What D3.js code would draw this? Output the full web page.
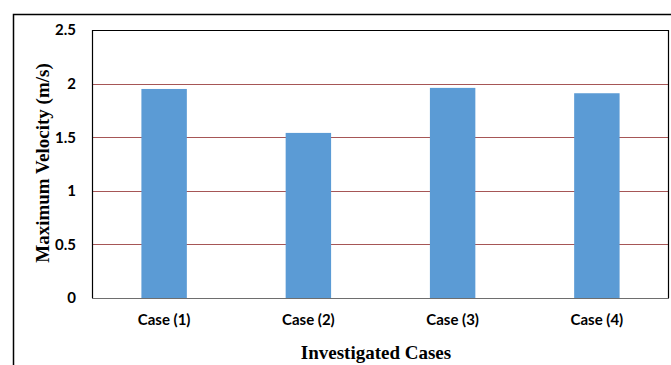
<!DOCTYPE html>
<html>
<head>
<meta charset="utf-8">
<script src="https://cdn.jsdelivr.net/npm/d3@7"></script>
<style>
  html, body { margin: 0; padding: 0; background: #fff; }
  svg { display: block; }
</style>
</head>
<body>
<svg id="chart" width="671" height="365"></svg>
<script>
// Maximum velocity for each investigated case
const categories = ["Case (1)", "Case (2)", "Case (3)", "Case (4)"];
const velocities = [1.95, 1.54, 1.96, 1.91];
const yTicks = [0, 0.5, 1, 1.5, 2, 2.5];

const svg = d3.select("#chart");
const W = 671, H = 365;
const plot = { left: 92, right: 669, top: 30, bottom: 298 };

// Outer frame around the whole figure (runs past the right/bottom edges)
svg.append("rect")
  .attr("x", 13.5).attr("y", 14.5)
  .attr("width", W).attr("height", H)
  .attr("fill", "none").attr("stroke", "#000").attr("stroke-width", 1.5);

const x = d3.scaleBand()
  .domain(categories)
  .range([plot.left, plot.right])
  .paddingInner(0.685)
  .paddingOuter(0.3425);

const y = d3.scaleLinear()
  .domain([0, 2.5])
  .range([plot.bottom, plot.top]);

// Horizontal gridlines
svg.append("g")
  .selectAll("line")
  .data(yTicks.filter(d => d > 0 && d < 2.5))
  .join("line")
  .attr("x1", plot.left).attr("x2", plot.right)
  .attr("y1", d => Math.round(y(d)) + 0.5)
  .attr("y2", d => Math.round(y(d)) + 0.5)
  .attr("stroke", "#a65656").attr("stroke-width", 1);

// Bars
svg.append("g")
  .selectAll("rect")
  .data(velocities)
  .join("rect")
  .attr("x", (d, i) => x(categories[i]))
  .attr("y", d => y(d))
  .attr("width", x.bandwidth())
  .attr("height", d => y(0) - y(d))
  .attr("fill", "#5b9bd5");

// Plot border: top, left and right in black, baseline in grey
const border = svg.append("g").attr("fill", "none");
border.append("path")
  .attr("d", `M${plot.left + 0.5},${plot.bottom}V${plot.top + 0.5}H${plot.right - 0.5}V${plot.bottom}`)
  .attr("stroke", "#000").attr("stroke-width", 1.2);
border.append("line")
  .attr("x1", plot.left).attr("x2", plot.right)
  .attr("y1", plot.bottom + 0.5).attr("y2", plot.bottom + 0.5)
  .attr("stroke", "#6e6e6e").attr("stroke-width", 1.2);

// Y axis tick labels
const yAxis = d3.axisLeft(y).tickValues(yTicks).tickSize(0).tickPadding(16)
  .tickFormat(d => d3.format("")(d));
svg.append("g")
  .attr("transform", `translate(${plot.left},0)`)
  .call(yAxis)
  .call(g => g.select(".domain").remove())
  .call(g => g.selectAll("text")
    .attr("font-family", "Lato, 'Open Sans', sans-serif")
    .attr("font-weight", "bold").attr("font-size", 15).attr("fill", "#000"));

// X axis category labels
const xAxis = d3.axisBottom(x).tickSize(0).tickPadding(16);
svg.append("g")
  .attr("transform", `translate(0,${plot.bottom})`)
  .call(xAxis)
  .call(g => g.select(".domain").remove())
  .call(g => g.selectAll("text")
    .attr("font-family", "Lato, 'Open Sans', sans-serif")
    .attr("font-weight", "bold").attr("font-size", 15).attr("fill", "#000"));

// Axis titles
svg.append("text")
  .attr("x", 376).attr("y", 359)
  .attr("text-anchor", "middle")
  .attr("font-family", "'Liberation Serif', 'Times New Roman', serif")
  .attr("font-weight", "bold").attr("font-size", 19)
  .text("Investigated Cases");

svg.append("text")
  .attr("transform", "translate(49,163) rotate(-90)")
  .attr("text-anchor", "middle")
  .attr("font-family", "'Liberation Serif', 'Times New Roman', serif")
  .attr("font-weight", "bold").attr("font-size", 19)
  .text("Maximum Velocity (m/s)");
</script>
</body>
</html>
